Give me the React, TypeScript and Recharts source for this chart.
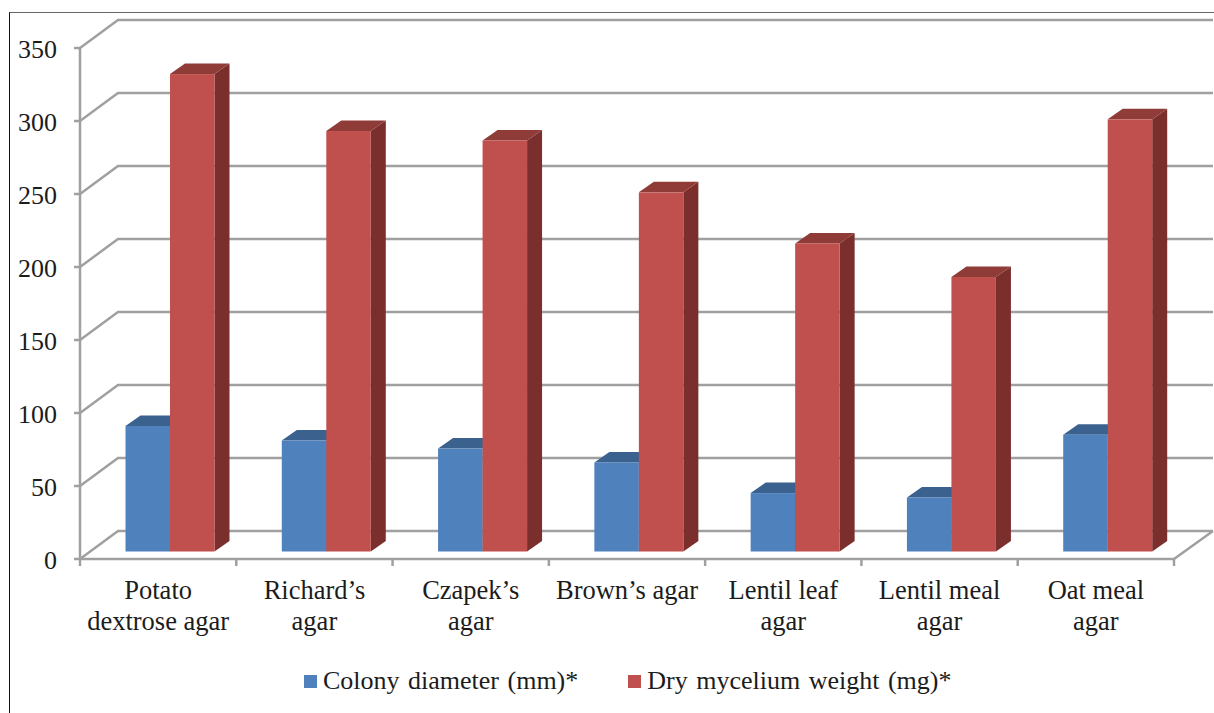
import { BarChart, Bar, XAxis, YAxis, CartesianGrid, Legend } from "recharts";

const categories = [
  "Potato\ndextrose agar",
  "Richard’s\nagar",
  "Czapek’s\nagar",
  "Brown’s agar",
  "Lentil leaf\nagar",
  "Lentil meal\nagar",
  "Oat meal\nagar",
];
const colonyDiameter = [86, 76, 70.5, 61, 40, 37, 80];
const myceliumWeight = [327, 288, 281.5, 246, 211, 188, 296];
const yTicks = [0, 50, 100, 150, 200, 250, 300, 350];

const data = categories.map((name, i) => ({
  name,
  colony: colonyDiameter[i],
  weight: myceliumWeight[i],
}));

const FONT = '"Liberation Serif", serif';
const AXIS_GREY = "#a0a0a0";
const TEXT = "#1c1c1c";

const WIDTH = 1214;
const HEIGHT = 713;
const PLOT_LEFT = 80;
const PLOT_RIGHT = 1174;

// fake perspective: how far the back wall and the bar sides recede
const WALL_DX = 38;
const WALL_DY = -28;
const BAR_DX = 15;
const BAR_DY = -10.5;
const BAR_SHIFT_X = 11.5;
const BAR_SHIFT_Y = -7.5;

const wallLine = (props: any) => {
  const { x1, x2, y1, key } = props;
  const isFloor = Math.abs(y1 - 559) < 1;
  return (
    <g key={key}>
      <polyline
        points={`${x1},${y1} ${x1 + WALL_DX},${y1 + WALL_DY} ${x2 + WALL_DX + 1},${y1 + WALL_DY}`}
        fill="none"
        stroke={AXIS_GREY}
        strokeWidth={2.5}
      />
      {isFloor && (
        <line x1={x2} y1={y1} x2={x2 + WALL_DX + 1} y2={y1 + WALL_DY} stroke={AXIS_GREY} strokeWidth={2.5} />
      )}
    </g>
  );
};

const box3d = (front: string, top: string, side: string) => (props: any) => {
  const { width, height } = props;
  const x = props.x + BAR_SHIFT_X;
  const y = props.y + BAR_SHIFT_Y;
  const r = x + width;
  const b = y + height;
  return (
    <g>
      <polygon
        points={`${r},${y} ${r + BAR_DX},${y + BAR_DY} ${r + BAR_DX},${b + BAR_DY} ${r},${b}`}
        fill={side}
      />
      <polygon
        points={`${x},${y} ${x + BAR_DX},${y + BAR_DY} ${r + BAR_DX},${y + BAR_DY} ${r},${y}`}
        fill={top}
      />
      <rect x={x} y={y} width={width} height={height} fill={front} />
    </g>
  );
};

// two-line category label plus the tick marks at the category boundaries
const CategoryTick = (props: any) => {
  const { x, y, payload, index } = props;
  const step = (PLOT_RIGHT - PLOT_LEFT) / categories.length;
  const lines = String(payload.value).split("\n");
  return (
    <g>
      <line x1={x - step / 2} x2={x - step / 2} y1={y - 8} y2={y} stroke={AXIS_GREY} strokeWidth={2.5} />
      {index === categories.length - 1 && (
        <line x1={x + step / 2} x2={x + step / 2} y1={y - 8} y2={y} stroke={AXIS_GREY} strokeWidth={2.5} />
      )}
      {lines.map((line, i) => (
        <text
          key={line}
          x={x}
          y={y + 33 + i * 31}
          textAnchor="middle"
          fontFamily={FONT}
          fontSize={26.5}
          fill={TEXT}
        >
          {line}
        </text>
      ))}
    </g>
  );
};

const legendContent = (props: any) => (
  <div style={{ display: "flex", fontFamily: FONT, fontSize: 26, color: TEXT, wordSpacing: 2, whiteSpace: "nowrap" }}>
    {props.payload.map((item: any, i: number) => (
      <div key={item.value} style={{ display: "flex", alignItems: "center", marginLeft: i ? 50 : 0 }}>
        <span style={{ width: 13, height: 13, background: item.color, marginRight: 6 }} />
        {item.value}
      </div>
    ))}
  </div>
);

export default function App() {
  return (
    <div style={{ position: "fixed", left: 0, top: 0, width: WIDTH, height: HEIGHT, background: "#fff" }}>
      <div
        style={{
          position: "absolute",
          left: 9,
          top: 12,
          right: 0,
          bottom: 0,
          borderLeft: "1px solid #111",
          borderTop: "1px solid #666",
        }}
      />
      <BarChart
        width={WIDTH}
        height={HEIGHT}
        data={data}
        barSize={44.5}
        barGap={0}
        margin={{ top: 48, right: WIDTH - PLOT_RIGHT, left: 10, bottom: 24 }}
      >
        <CartesianGrid vertical={false} horizontal={wallLine} />
        <XAxis
          dataKey="name"
          interval={0}
          height={100}
          tickLine={false}
          tick={CategoryTick}
          tickMargin={1}
          axisLine={{ stroke: AXIS_GREY, strokeWidth: 2.5 }}
        />
        <YAxis
          width={70}
          domain={[0, 350]}
          ticks={yTicks}
          interval={0}
          tickSize={6}
          tickMargin={17}
          axisLine={{ stroke: AXIS_GREY, strokeWidth: 2.5 }}
          tickLine={{ stroke: AXIS_GREY, strokeWidth: 2.5 }}
          tick={{ fill: TEXT, fontSize: 26, fontFamily: FONT, dy: 1 }}
        />
        <Legend
          height={30}
          content={legendContent}
          wrapperStyle={{ left: 304, top: 666, width: "auto" }}
        />
        <Bar
          dataKey="colony"
          name="Colony diameter (mm)*"
          fill="#4f81bd"
          shape={box3d("#4f81bd", "#3b618e", "#2f4d71")}
          isAnimationActive={false}
        />
        <Bar
          dataKey="weight"
          name="Dry mycelium weight (mg)*"
          fill="#c0504d"
          shape={box3d("#c0504d", "#8f3b38", "#7a2f2d")}
          isAnimationActive={false}
        />
      </BarChart>
    </div>
  );
}
